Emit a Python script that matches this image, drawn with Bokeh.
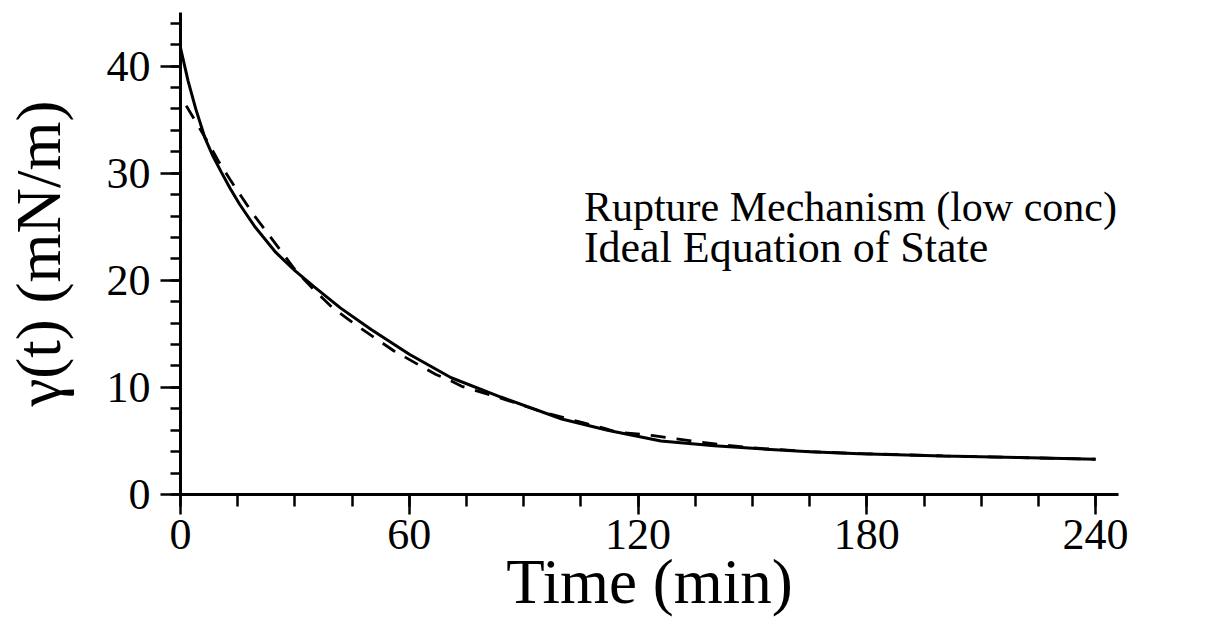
from bokeh.plotting import figure
from bokeh.models import Range1d, SingleIntervalTicker, Label
from bokeh.embed import file_html
from bokeh.resources import INLINE

# --- data ---
time_solid = [0, 2, 4, 6.4, 8.5, 10.7, 13, 15.5, 19.5, 25, 30, 35, 42, 50, 60, 71, 84,
              100, 112, 126, 140, 152, 165, 178, 200, 220, 240]
gamma_solid = [41.7, 38.6, 36.0, 33.3, 31.6, 30.1, 28.6, 27.1, 25.0, 22.6, 20.9, 19.4, 17.4,
               15.4, 13.1, 10.9, 9.1, 7.05, 6.0, 5.0, 4.55, 4.26, 4.0, 3.8, 3.6, 3.45, 3.3]

time_dashed = [1.5, 4, 7, 10, 13, 16, 19, 22, 26, 30, 35, 40, 45, 50, 56, 59, 63, 67, 71, 74,
               84, 95, 105, 111, 114, 124, 128, 134, 142, 150, 165, 180, 200, 220, 240]
gamma_dashed = [36.3, 34.8, 33.0, 31.1, 29.4, 27.8, 26.2, 24.8, 22.9, 21.0, 19.1, 17.4, 16.1,
                14.85, 13.4, 12.8, 12.0, 11.2, 10.6, 10.07, 9.0, 7.7, 6.75, 6.2, 5.85, 5.5,
                5.3, 5.0, 4.65, 4.35, 4.0, 3.8, 3.6, 3.45, 3.3]

x_tick_interval = 60
y_tick_interval = 10
annotation_lines = ["Rupture Mechanism (low conc)", "Ideal Equation of State"]

FONT = "Liberation Serif"

p = figure(width=1221, height=621, output_backend="svg", toolbar_location=None,
           x_range=Range1d(0, 246), y_range=Range1d(0, 45),
           min_border_left=179, min_border_right=103, min_border_top=12,
           min_border_bottom=127)

p.outline_line_color = None
p.xgrid.visible = False
p.ygrid.visible = False
p.background_fill_color = "white"
p.border_fill_color = "white"

p.line(time_solid, gamma_solid, line_color="black", line_width=3)
p.line(time_dashed, gamma_dashed, line_color="black", line_width=2.8, line_dash="15 11")

# axes
p.xaxis.ticker = SingleIntervalTicker(interval=x_tick_interval, num_minor_ticks=4)
p.yaxis.ticker = SingleIntervalTicker(interval=y_tick_interval, num_minor_ticks=5)

for ax in (p.xaxis, p.yaxis):
    ax.axis_line_width = 3
    ax.axis_line_color = "black"
    ax.major_tick_line_width = 2.5
    ax.minor_tick_line_width = 2.5
    ax.major_tick_line_color = "black"
    ax.minor_tick_line_color = "black"
    ax.major_tick_in = 0
    ax.minor_tick_in = 0
    ax.major_tick_out = 20
    ax.major_label_text_font = FONT
    ax.major_label_text_font_size = "44px"
    ax.major_label_text_color = "black"
    ax.axis_label_text_font = FONT
    ax.axis_label_text_font_style = "normal"
    ax.axis_label_text_color = "black"
    ax.axis_label_text_font_size = "63px"

p.xaxis.minor_tick_out = 12
p.yaxis.minor_tick_out = 10
p.xaxis.major_label_standoff = 5
p.yaxis.major_label_standoff = 10
p.xaxis.axis_label = "Time (min)"
p.yaxis.axis_label = "γ(t) (mN/m)"
p.xaxis.axis_label_standoff = -5
p.yaxis.axis_label_standoff = 30

annotation_sizes = ["42px", "44px"]
annotation_y = [26.8, 23.1]
for txt, size, yy in zip(annotation_lines, annotation_sizes, annotation_y):
    p.add_layout(Label(x=105.8, y=yy, text=txt, text_font=FONT,
                       text_font_size=size, text_color="black",
                       text_baseline="alphabetic", text_align="left"))

open("out.html", "w").write(file_html(p, INLINE))
